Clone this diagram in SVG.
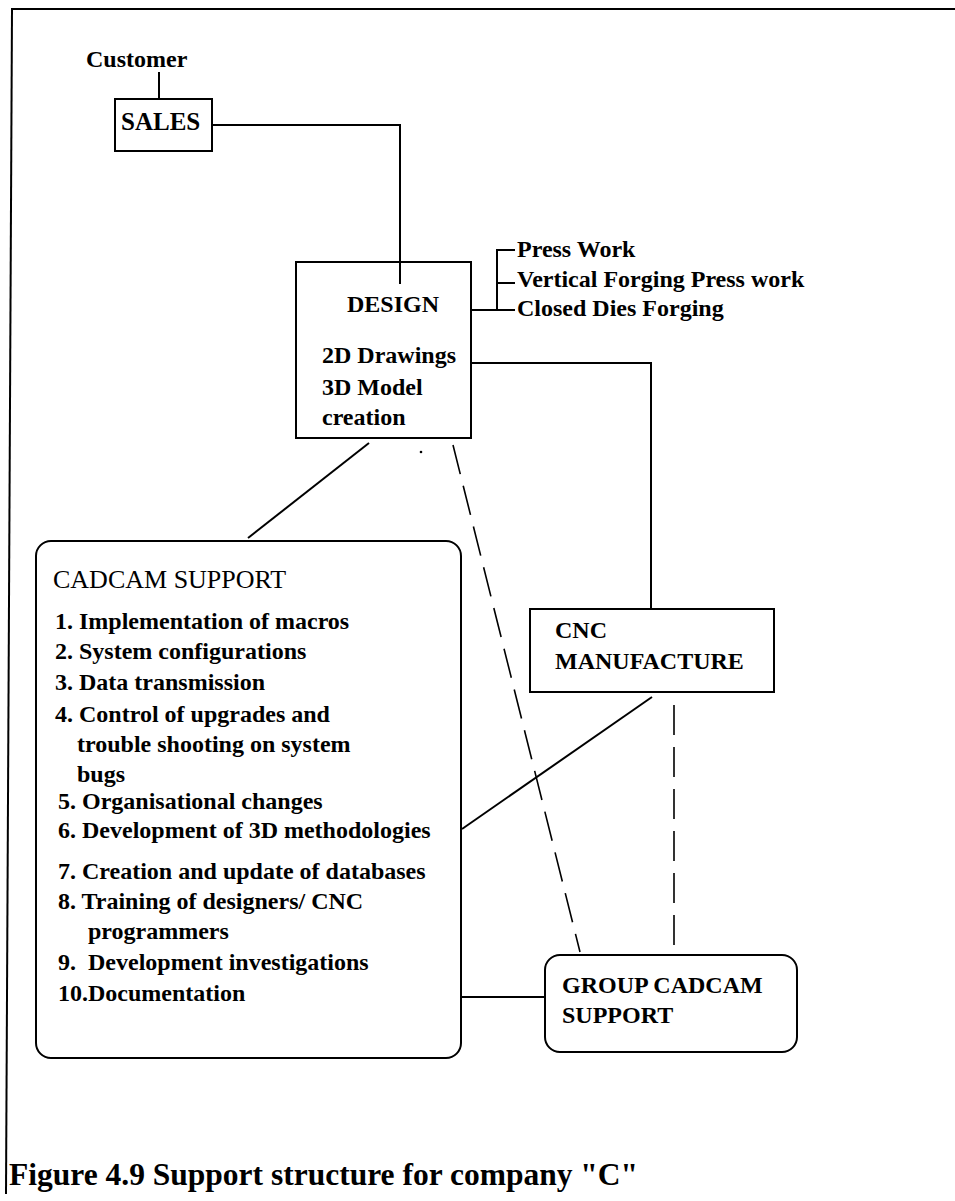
<svg xmlns="http://www.w3.org/2000/svg" width="955" height="1201" viewBox="0 0 955 1201">
  <style>
    .box { fill: #fff; stroke: #000; stroke-width: 2; }
    .ln { fill: none; stroke: #000; stroke-width: 2; }
    .dash { fill: none; stroke: #000; stroke-width: 1.6; stroke-dasharray: 30 12; }
    .t { font-family: "Liberation Serif", "Times New Roman", serif; font-size: 24px; font-weight: bold; fill: #000; }
    .r { font-weight: normal; }
  </style>
  <rect x="0" y="0" width="955" height="1201" fill="#fff"/>

  <!-- page frame -->
  <g id="frame">
    <line class="ln" x1="11" y1="9" x2="955" y2="9"/>
    <line class="ln" x1="12" y1="9" x2="6" y2="1194"/>
  </g>

  <!-- connectors -->
  <g id="connectors">
    <line class="ln" x1="159" y1="72" x2="159" y2="99"/>
    <polyline class="ln" points="212,125 400,125 400,284"/>
    <polyline class="ln" points="471,310 497,310 497,250 515,250"/>
    <line class="ln" x1="497" y1="283" x2="515" y2="283"/>
    <line class="ln" x1="497" y1="310" x2="515" y2="310"/>
    <polyline class="ln" points="471,363 651,363 651,609"/>
    <line class="ln" x1="369" y1="443" x2="248" y2="538"/>
    <line class="ln" x1="652" y1="697" x2="462" y2="829"/>
    <line class="ln" x1="461" y1="997" x2="545" y2="997"/>
    <line class="dash" x1="453" y1="445" x2="580" y2="952"/>
    <line class="dash" x1="674" y1="705" x2="674" y2="955"/>
    <circle cx="421" cy="452" r="1.3" fill="#000"/>
  </g>

  <g id="customer">
    <text class="t" x="86" y="67">Customer</text>
  </g>

  <g id="sales">
    <rect class="box" x="115" y="99" width="97" height="52"/>
    <text class="t" x="121" y="130" style="font-size:25px">SALES</text>
  </g>

  <g id="design">
    <rect class="box" x="296" y="262" width="175" height="176"/>
    <line class="ln" x1="400" y1="262" x2="400" y2="284"/>
    <text class="t" x="347" y="312">DESIGN</text>
    <text class="t" x="322" y="363">2D Drawings</text>
    <text class="t" x="322" y="395">3D Model</text>
    <text class="t" x="322" y="425">creation</text>
  </g>

  <g id="processes">
    <text class="t" x="517" y="257">Press Work</text>
    <text class="t" x="517" y="287">Vertical Forging Press work</text>
    <text class="t" x="517" y="316">Closed Dies Forging</text>
  </g>

  <g id="cnc">
    <rect class="box" x="530" y="609" width="244" height="83"/>
    <text class="t" x="555" y="638">CNC</text>
    <text class="t" x="555" y="669">MANUFACTURE</text>
  </g>

  <g id="cadcam-support">
    <rect class="box" x="36" y="541" width="425" height="517" rx="15" ry="15"/>
    <text class="t r" x="53" y="588" style="font-size:26px">CADCAM SUPPORT</text>
    <text class="t" x="55" y="629">1. Implementation of macros</text>
    <text class="t" x="55" y="659">2. System configurations</text>
    <text class="t" x="55" y="690">3. Data transmission</text>
    <text class="t" x="55" y="722">4. Control of upgrades and</text>
    <text class="t" x="77" y="752">trouble shooting on system</text>
    <text class="t" x="77" y="782">bugs</text>
    <text class="t" x="58" y="809">5. Organisational changes</text>
    <text class="t" x="58" y="838">6. Development of 3D methodologies</text>
    <text class="t" x="58" y="879">7. Creation and update of databases</text>
    <text class="t" x="58" y="909">8. Training of designers/ CNC</text>
    <text class="t" x="88" y="939">programmers</text>
    <text class="t" x="58" y="970" xml:space="preserve">9.  Development investigations</text>
    <text class="t" x="58" y="1001">10.Documentation</text>
  </g>

  <g id="group-cadcam-support">
    <rect class="box" x="545" y="955" width="252" height="97" rx="15" ry="15"/>
    <text class="t" x="562" y="993">GROUP CADCAM</text>
    <text class="t" x="562" y="1023">SUPPORT</text>
  </g>

  <g id="caption">
    <text class="t" x="9" y="1185" style="font-size:31.5px">Figure 4.9 Support structure for company "C"</text>
  </g>
</svg>
